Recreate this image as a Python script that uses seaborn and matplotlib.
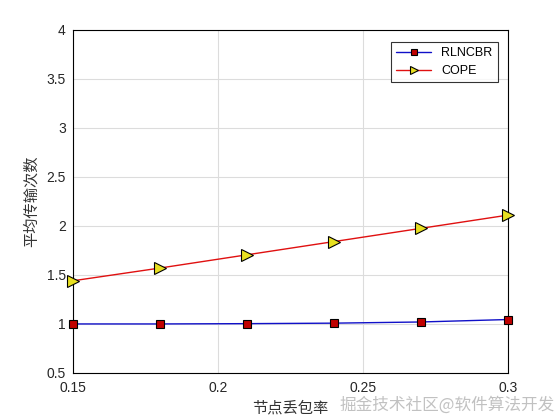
import matplotlib
matplotlib.use("Agg")
import matplotlib.pyplot as plt
import pandas as pd
import seaborn as sns

# data
loss_rate = [0.15, 0.18, 0.21, 0.24, 0.27, 0.30]
rlncbr = [1.0, 1.0, 1.003, 1.008, 1.02, 1.045]
cope = [1.44, 1.57, 1.705, 1.84, 1.975, 2.11]
xticks = [0.15, 0.2, 0.25, 0.3]
xtick_labels = ['0.15', '0.2', '0.25', '0.3']
yticks = [0.5, 1, 1.5, 2, 2.5, 3, 3.5, 4]
ytick_labels = ['0.5', '1', '1.5', '2', '2.5', '3', '3.5', '4']

df = pd.DataFrame({'x': loss_rate * 2,
                   'y': rlncbr + cope,
                   'scheme': ['RLNCBR'] * 6 + ['COPE'] * 6})

sns.set_style("whitegrid")
plt.rcParams['font.family'] = ['Liberation Sans', 'Noto Sans CJK SC', 'DejaVu Sans']

fig = plt.figure(figsize=(5.6, 4.2), dpi=100)
ax = fig.add_axes([0.130, 0.112, 0.777, 0.817])

styles = {'RLNCBR': dict(color='#1010C8', marker='s', mfc='#C00000', ms=6),
          'COPE': dict(color='#E01010', marker='>', mfc='#E8E020', ms=8)}
for name in ['RLNCBR', 'COPE']:
    sub = df[df['scheme'] == name]
    st = styles[name]
    sns.lineplot(data=sub, x='x', y='y', ax=ax, color=st['color'], lw=1.0,
                 marker=st['marker'], markersize=st['ms'], markerfacecolor=st['mfc'],
                 markeredgecolor='black', markeredgewidth=0.8, label=name,
                 clip_on=False, zorder=3)

ax.set_xlim(0.15, 0.3)
ax.set_ylim(0.5, 4)
ax.set_xticks(xticks)
ax.set_xticklabels(xtick_labels)
ax.set_yticks(yticks)
ax.set_yticklabels(ytick_labels)
ax.tick_params(labelsize=10, direction='in', length=4, color='black', labelcolor='#262626')
ax.tick_params(axis='x', pad=6)
ax.tick_params(axis='y', pad=5)
ax.grid(True, color='#DCDCDC', lw=0.8)
for s in ax.spines.values():
    s.set_color('black')
    s.set_linewidth(0.8)

ax.set_xlabel('节点丢包率', fontsize=11, family=['Noto Sans CJK SC'], color='#333333', labelpad=3)
ax.set_ylabel('平均传输次数', fontsize=11, family=['Noto Sans CJK SC'], color='#333333', labelpad=5)

leg = ax.legend(loc='upper right', bbox_to_anchor=(0.985, 0.975), fontsize=9,
                frameon=True, fancybox=False, borderaxespad=0.3, handlelength=2.8,
                markerscale=0.8)
leg.get_frame().set_edgecolor('black')
leg.get_frame().set_linewidth(0.8)
for t in leg.get_texts():
    t.set_color('black')

fig.text(0.99, 0.015, '掘金技术社区@软件算法开发', ha='right', va='bottom', fontsize=12,
         family=['Noto Sans CJK SC'], color='#BBBBBB', alpha=0.9)

fig.savefig('out.png', dpi=100)
